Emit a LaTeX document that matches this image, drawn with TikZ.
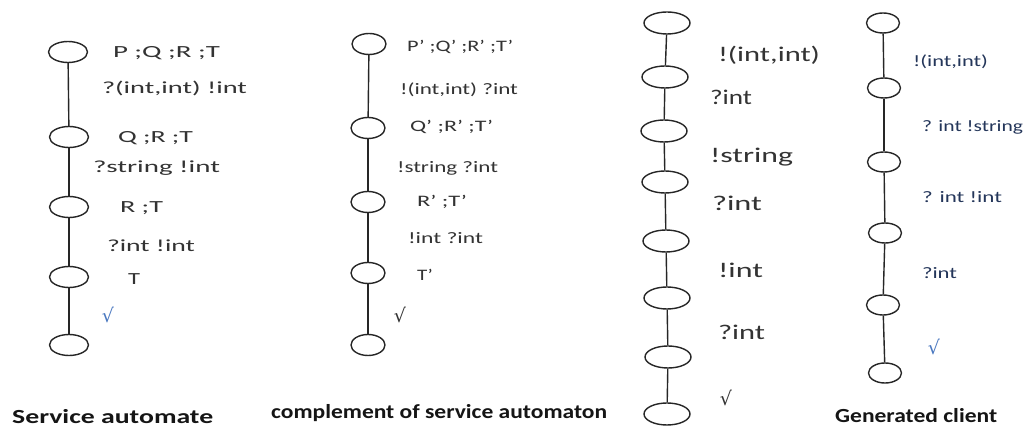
\documentclass[tikz,border=0pt]{standalone}
\usepackage{fontspec}
\setmainfont{Carlito}
\newfontfamily\symfont{DejaVu Sans}
\usetikzlibrary{shapes.geometric}

% label stretched to a given width, keeping its natural height
\newcommand\wlab[2]{\resizebox{#1pt}{\height}{#2}}
\newcommand\ok{{\symfont\char"221A}}
\newcommand\pr{\char39\relax}

\definecolor{labgray}{HTML}{333333}
\definecolor{labnavy}{HTML}{24365A}
\definecolor{tickblue}{HTML}{4A78C0}
\definecolor{capink}{HTML}{151515}

\tikzset{
  state/.style={ellipse, draw=black!85, line width=1.4pt, inner sep=0pt, fill=white},
  sa/.style={state, minimum width=39pt, minimum height=21pt},
  sb/.style={state, minimum width=34pt, minimum height=21pt},
  sc/.style={state, minimum width=46pt, minimum height=22pt},
  sd/.style={state, minimum width=33pt, minimum height=20pt},
  edge/.style={draw=black!85, line width=1.4pt},
  lab/.style={anchor=west, inner sep=0pt, outer sep=0pt},
  la/.style={lab, text=labgray, font=\fontsize{17}{17}\selectfont},
  lb/.style={lab, text=labgray, font=\fontsize{16}{16}\selectfont},
  lc/.style={lab, text=labgray, font=\fontsize{21}{21}\selectfont},
  ld/.style={lab, text=labnavy, font=\fontsize{16}{16}\selectfont},
  tick/.style={inner sep=0pt, font=\fontsize{19}{19}\selectfont},
  caption/.style={anchor=west, inner sep=0pt, text=capink, font=\fontsize{20}{20}\selectfont\bfseries},
}

\begin{document}
\begin{tikzpicture}[x=1pt, y=-1pt]
\useasboundingbox[fill=white] (0,0) rectangle (1029,427);

% ---- service automate ----
\node[sa] (a1) at (68,52) {};
\node[sa] (a2) at (69,137) {};
\node[sa] (a3) at (69,207) {};
\node[sa] (a4) at (69,277) {};
\node[sa] (a5) at (69,345) {};
\foreach \u/\v in {a1/a2, a2/a3, a3/a4, a4/a5} \draw[edge] (\u) -- (\v);
\node[la] (ta1) at (113,53) {\wlab{107}{P ;Q ;R ;T}};
\node[la] (ta2) at (102,88) {\wlab{145}{?(int,int) !int}};
\node[la] (ta3) at (118,138) {\wlab{75}{Q ;R ;T}};
\node[la] (ta4) at (93,168) {\wlab{127}{?string !int}};
\node[la] (ta5) at (120,208) {\wlab{43}{R ;T}};
\node[la] (ta6) at (107,246) {\wlab{88}{?int !int}};
\node[la] (ta7) at (128,279) {\wlab{12}{T}};
\node[tick, text=tickblue] (ta8) at (108,315) {\ok};
\node[caption] (ca) at (12,417) {\wlab{201}{Service automate}};

% ---- complement of service automaton ----
\node[sb] (b1) at (369,44) {};
\node[sb] (b2) at (368,128) {};
\node[sb] (b3) at (368,202) {};
\node[sb] (b4) at (368,273) {};
\node[sb] (b5) at (368,345) {};
\foreach \u/\v in {b1/b2, b2/b3, b3/b4, b4/b5} \draw[edge] (\u) -- (\v);
\node[lb] (tb1) at (407,47) {\wlab{106}{P\pr{} ;Q\pr{} ;R\pr{} ;T\pr}};
\node[lb] (tb2) at (400,90) {\wlab{118}{!(int,int) ?int}};
\node[lb] (tb3) at (410,127) {\wlab{83}{Q\pr{} ;R\pr{} ;T\pr}};
\node[lb] (tb4) at (397,168) {\wlab{101}{!string ?int}};
\node[lb] (tb5) at (417,202) {\wlab{50}{R\pr{} ;T\pr}};
\node[lb] (tb6) at (408,238) {\wlab{75}{!int ?int}};
\node[lb] (tb7) at (417,275) {\wlab{16}{T\pr}};
\node[tick, text=labgray] (tb8) at (400,315) {\ok};
\node[caption] (cb) at (271,413) {\wlab{336}{complement of service automaton}};

% ---- third chain ----
\node[sc] (c1) at (667,23) {};
\node[sc] (c2) at (665,77) {};
\node[sc] (c3) at (664,131) {};
\node[sc] (c4) at (665,182) {};
\node[sc] (c5) at (666,241) {};
\node[sc] (c6) at (667,298) {};
\node[sc] (c7) at (668,357) {};
\node[sc] (c8) at (667,414) {};
\foreach \u/\v in {c1/c2, c2/c3, c3/c4, c4/c5, c5/c6, c6/c7, c7/c8} \draw[edge] (\u) -- (\v);
\node[lc] (tc1) at (718,55) {\wlab{102}{!(int,int)}};
\node[lc] (tc2) at (710,97) {\wlab{42}{?int}};
\node[lc] (tc3) at (710,157) {\wlab{83}{!string}};
\node[lc] (tc4) at (712,203) {\wlab{50}{?int}};
\node[lc] (tc5) at (718,270) {\wlab{45}{!int}};
\node[lc] (tc6) at (718,332) {\wlab{47}{?int}};
\node[tick, text=labgray] (tc7) at (726,398) {\ok};

% ---- generated client ----
\node[sd] (d1) at (883,23) {};
\node[sd] (d2) at (884,88) {};
\node[sd] (d3) at (884,162) {};
\node[sd] (d4) at (885,233) {};
\node[sd] (d5) at (883,305) {};
\node[sd] (d6) at (885,373) {};
\foreach \u/\v in {d1/d2, d2/d3, d3/d4, d4/d5, d5/d6} \draw[edge] (\u) -- (\v);
\node[ld] (td1) at (913,62) {\wlab{75}{!(int,int)}};
\node[ld] (td2) at (922,127) {\wlab{101}{? int !string}};
\node[ld] (td3) at (922,197) {\wlab{80}{? int !int}};
\node[ld] (td4) at (922,273) {\wlab{35}{?int}};
\node[tick, text=tickblue] (td5) at (934,347) {\ok};
\node[caption] (cd) at (835,416) {\wlab{162}{Generated client}};
\end{tikzpicture}
\end{document}
